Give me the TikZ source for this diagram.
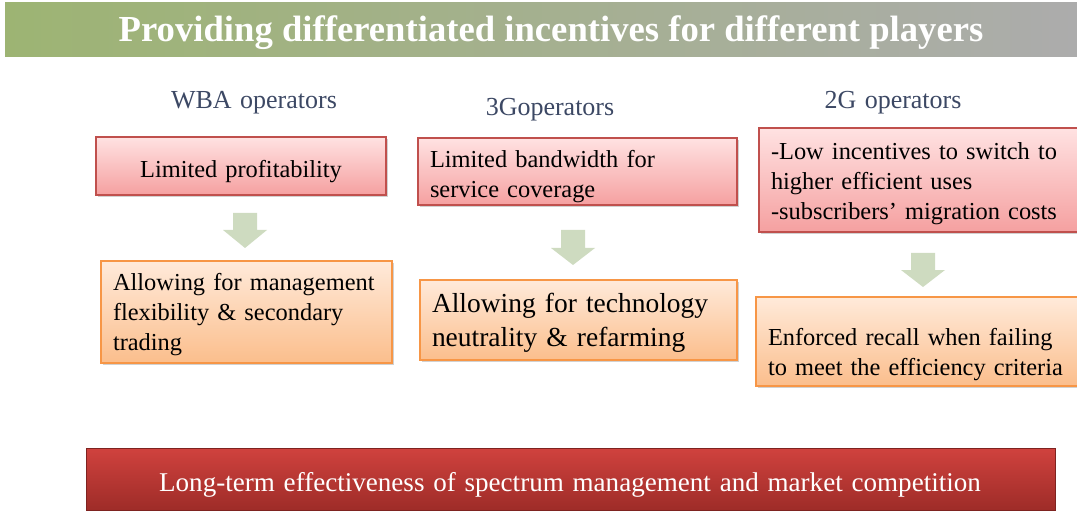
\documentclass[tikz,border=0pt]{standalone}
\usepackage{fontspec}
\setmainfont{Liberation Serif}
\newfontfamily\bodyf{Liberation Serif}[WordSpace=1.8]
\newfontfamily\midf{Liberation Serif}[WordSpace=1.45]
\newfontfamily\botf{Liberation Serif}[WordSpace=1.3]
\usetikzlibrary{shadows}
\definecolor{TitleL}{RGB}{157,180,115}
\definecolor{TitleR}{RGB}{172,172,172}
\definecolor{HeadC}{RGB}{60,72,100}
\definecolor{RedTop}{RGB}{255,226,226}
\definecolor{RedBot}{RGB}{245,160,160}
\definecolor{RedBorder}{RGB}{192,80,77}
\definecolor{OrTop}{RGB}{255,234,218}
\definecolor{OrBot}{RGB}{251,190,140}
\definecolor{OrBorder}{RGB}{247,150,70}
\definecolor{ArrowC}{RGB}{206,219,192}
\definecolor{BotTop}{RGB}{208,66,62}
\definecolor{BotBot}{RGB}{158,44,40}
\newcommand\fs[2]{\fontsize{#1}{#2}\selectfont}
\begin{document}
\begin{tikzpicture}[x=0.75pt,y=-0.75pt,
  boxbase/.style={draw, line width=0.9pt, inner sep=0pt,
    drop shadow={shadow xshift=1.2pt, shadow yshift=-1.5pt, fill=black, opacity=0.18}},
  redbox/.style={boxbase, draw=RedBorder, top color=RedTop, bottom color=RedBot},
  orbox/.style={boxbase, draw=OrBorder, top color=OrTop, bottom color=OrBot},
  head/.style={text=HeadC, font=\midf\fs{19.5}{23}},
  txt/.style={inner sep=0pt, align=left, font=\bodyf\fs{18.3}{22.5}},
  blockarrow/.style={fill=ArrowC, draw=none}
]
\useasboundingbox (0,0) rectangle (1077,513);

% title bar
\node[minimum width=1072*0.75pt, minimum height=54*0.75pt, inner sep=0pt,
  left color=TitleL, right color=TitleR, draw=none] (titlebar) at (541,30) {};
\node[text=white, font=\bfseries\fs{27.5}{30}, inner sep=0pt] (title) at (551,33)
  {Providing differentiated incentives for different players};

% headings
\node[head] (h1) at (254,103) {WBA operators};
\node[head] (h2) at (550,110) {3Goperators};
\node[head] (h3) at (893,103) {2G operators};

% column 1
\node[redbox, minimum width=290*0.75pt, minimum height=58*0.75pt] (b1) at (241,166) {};
\node[txt, align=center] (t1) at (241,171.5) {Limited profitability};
\node[orbox, minimum width=291*0.75pt, minimum height=102*0.75pt] (b2) at (246.5,312) {};
\node[txt, text width=267*0.75pt] (t2) at (246.5,315)
  {Allowing for management\\ flexibility \& secondary\\ trading};

% column 2
\node[redbox, minimum width=319*0.75pt, minimum height=67*0.75pt] (b3) at (577.5,171.5) {};
\node[txt, text width=295*0.75pt] (t3) at (577.5,176.5)
  {Limited bandwidth for\\ service coverage};
\node[orbox, minimum width=317*0.75pt, minimum height=80*0.75pt] (b4) at (578.5,320) {};
\node[txt, text width=293*0.75pt, font=\bodyf\fs{20.6}{25.5}] (t4) at (578.5,323)
  {Allowing for technology\\ neutrality \& refarming};

% column 3
\node[redbox, minimum width=320*0.75pt, minimum height=104*0.75pt] (b5) at (919,180) {};
\node[txt, text width=296*0.75pt] (t5) at (919,184)
  {-Low incentives to switch to\\ higher efficient uses\\ -subscribers’ migration costs};
\node[orbox, minimum width=322*0.75pt, minimum height=89*0.75pt] (b6) at (917,341.5) {};
\node[txt, text width=298*0.75pt] (t6) at (917,355)
  {Enforced recall when failing\\ to meet the efficiency criteria};

% block arrows
\fill[blockarrow] (233,213) -- (257,213) -- (257,230) -- (267,230) -- (245,248) -- (223,230) -- (233,230) -- cycle;
\fill[blockarrow] (561,230) -- (585,230) -- (585,248) -- (595,248) -- (573,265) -- (551,248) -- (561,248) -- cycle;
\fill[blockarrow] (911,253) -- (935,253) -- (935,270) -- (945,270) -- (923,287) -- (901,270) -- (911,270) -- cycle;

% bottom bar
\node[minimum width=969*0.75pt, minimum height=62*0.75pt, inner sep=0pt,
  top color=BotTop, bottom color=BotBot, draw=BotBot!80!black, line width=0.5pt]
  (bottombar) at (570.5,479) {};
\node[text=white, font=\botf\fs{20.3}{24}, inner sep=0pt] (bottom) at (570,484.5)
  {Long-term effectiveness of spectrum management and market competition};
\end{tikzpicture}
\end{document}
